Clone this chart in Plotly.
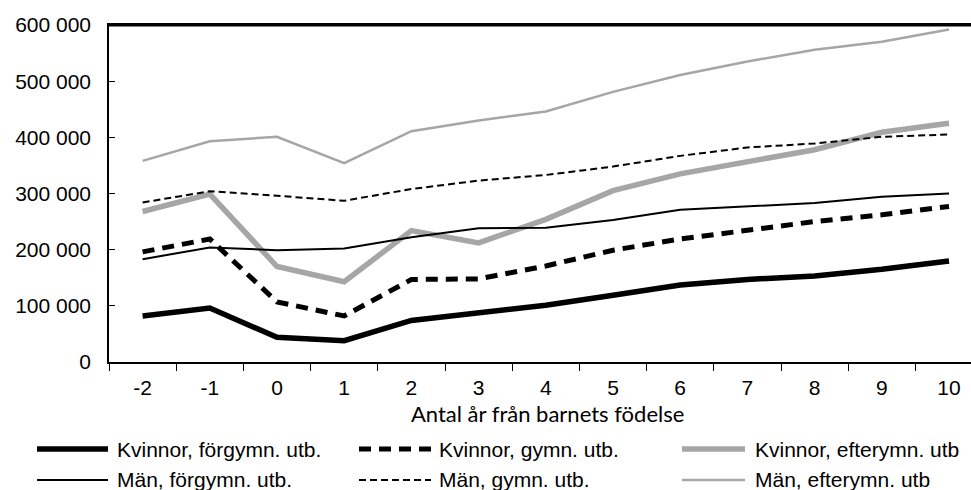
import plotly.graph_objects as go

years = [-2, -1, 0, 1, 2, 3, 4, 5, 6, 7, 8, 9, 10]
year_labels = ["-2", "-1", "0", "1", "2", "3", "4", "5", "6", "7", "8", "9", "10"]

kvinnor_forgymn = [82000, 96000, 44000, 38000, 74000, 87000, 101000, 119000, 137000, 147000, 153000, 165000, 180000]
kvinnor_gymn = [196000, 219000, 107000, 82000, 147000, 148000, 171000, 199000, 219000, 235000, 250000, 262000, 277000]
kvinnor_efter = [268000, 299000, 170000, 143000, 234000, 212000, 254000, 305000, 335000, 356000, 378000, 409000, 425000]
man_forgymn = [183000, 204000, 199000, 202000, 222000, 238000, 239000, 253000, 271000, 277000, 283000, 294000, 300000]
man_gymn = [284000, 304000, 296000, 287000, 308000, 323000, 333000, 348000, 367000, 382000, 389000, 401000, 405000]
man_efter = [358000, 393000, 401000, 354000, 411000, 430000, 446000, 481000, 511000, 535000, 556000, 570000, 592000]

series_names = [
    "Kvinnor, förgymn. utb.",
    "Kvinnor, gymn. utb.",
    "Kvinnor, efterymn. utb",
    "Män, förgymn. utb.",
    "Män, gymn. utb.",
    "Män, efterymn. utb",
]

y_tickvals = [0, 100000, 200000, 300000, 400000, 500000, 600000]
y_ticktext = ["0", "100 000", "200 000", "300 000", "400 000", "500 000", "600 000"]

x_title = "Antal år från barnets födelse"

BLACK = "#000000"
GRAY = "#a6a6a6"
styles = [
    dict(color=BLACK, width=5.5, dash="solid"),
    dict(color=BLACK, width=5, dash="12px,8px"),
    dict(color=GRAY, width=5.5, dash="solid"),
    dict(color=BLACK, width=2, dash="solid"),
    dict(color=BLACK, width=2, dash="7px,4px"),
    dict(color=GRAY, width=2.5, dash="solid"),
]
data = [kvinnor_forgymn, kvinnor_gymn, kvinnor_efter, man_forgymn, man_gymn, man_efter]

W, H = 971, 490
L, R, T, B = 109, 0, 25, 128
pw, ph = W - L - R, H - T - B


def px(x):
    return (x - L) / pw


def py(y):
    return (H - B - y) / ph


fig = go.Figure()
for name, vals, st in zip(series_names, data, styles):
    fig.add_trace(go.Scatter(x=years, y=vals, mode="lines", name=name,
                             line=st, showlegend=False, hoverinfo="skip"))

FONT = "Liberation Sans, Arial, sans-serif"

# manual legend
legend_cols = [(37, 108, 115), (359, 431, 437), (682, 745, 753)]
legend_rows = [449, 480]
shapes = [dict(type="line", xref="paper", yref="paper", x0=0, x1=1, y0=py(25.5), y1=py(25.5),
               line=dict(color=BLACK, width=2), layer="above")]
annotations = []
for k in range(6):
    r, c = divmod(k, 3)
    x0, x1, xt = legend_cols[c]
    yy = legend_rows[r]
    st = styles[k]
    shapes.append(dict(type="line", xref="paper", yref="paper",
                       x0=px(x0), x1=px(x1), y0=py(yy), y1=py(yy),
                       line=dict(color=st["color"], width=st["width"], dash=st["dash"])))
    annotations.append(dict(text=series_names[k], xref="paper", yref="paper",
                            x=px(xt), y=py(yy), xanchor="left", yanchor="middle",
                            showarrow=False, font=dict(family=FONT, size=21, color=BLACK)))

annotations.append(dict(text=x_title, xref="paper", yref="paper",
                        x=px(547), y=py(413), xanchor="center", yanchor="middle",
                        showarrow=False, font=dict(family="Lato, Carlito, sans-serif", size=22, color=BLACK)))

fig.update_layout(
    width=W, height=H,
    margin=dict(l=L, r=R, t=T, b=B),
    plot_bgcolor="white", paper_bgcolor="white",
    font=dict(family=FONT, size=21, color=BLACK),
    shapes=shapes,
    annotations=annotations,
    hovermode=False,
    xaxis=dict(
        range=[-2.5, -2.5 + pw / 67.2],
        tickvals=years, ticktext=year_labels,
        ticks="", showgrid=False, zeroline=False,
        showline=True, linecolor=BLACK, linewidth=1.5, mirror=True,
        ticklabelstandoff=6,
        minor=dict(tickmode="linear", tick0=-1.5, dtick=1, ticks="outside",
                   ticklen=7, tickcolor=BLACK, tickwidth=1.2, showgrid=False),
        tickfont=dict(family=FONT, size=21),
    ),
    yaxis=dict(
        range=[0, 600000],
        tickvals=y_tickvals, ticktext=y_ticktext,
        ticks="inside", ticklen=6, tickcolor=BLACK, tickwidth=1.2,
        showgrid=False, zeroline=False,
        showline=True, linecolor=BLACK, linewidth=1.5,
        ticklabelstandoff=12,
        tickfont=dict(family=FONT, size=21),
    ),
)

fig.write_html("out.html", config={"displayModeBar": False},
               post_script="document.body.style.margin='0';document.body.style.overflow='hidden';")
